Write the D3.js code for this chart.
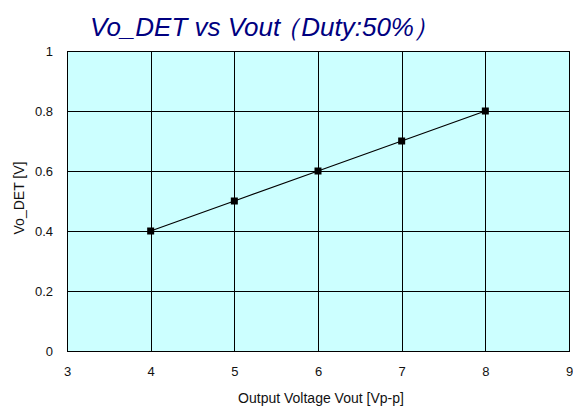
<!DOCTYPE html>
<html>
<head>
<meta charset="utf-8">
<script src="https://cdn.jsdelivr.net/npm/d3@7"></script>
<style>
  body { margin: 0; background: #fff; }
  svg { display: block; font-family: "Liberation Sans", Arial, sans-serif; }
</style>
</head>
<body>
<div id="chart"></div>
<script>
// data
var vout = [4, 5, 6, 7, 8];
var voDet = [0.4, 0.5, 0.6, 0.7, 0.8];
var xTicks = [3, 4, 5, 6, 7, 8, 9];
var yTicks = [0, 0.2, 0.4, 0.6, 0.8, 1];

var width = 573, height = 408;
var margin = { top: 51, right: 4, bottom: 57, left: 67 };
var innerW = width - margin.left - margin.right;
var innerH = height - margin.top - margin.bottom;

var svg = d3.select("#chart").append("svg")
  .attr("width", width)
  .attr("height", height);

var x = d3.scaleLinear().domain([3, 9]).range([0, innerW]);
var y = d3.scaleLinear().domain([0, 1]).range([innerH, 0]);

var g = svg.append("g")
  .attr("transform", "translate(" + margin.left + "," + margin.top + ")");

// plot background
g.append("rect")
  .attr("width", innerW)
  .attr("height", innerH)
  .attr("fill", "#ccffff");

// grid
g.selectAll(".vgrid").data(xTicks).enter().append("line")
  .attr("x1", function(d) { return Math.round(x(d)) + 0.5; })
  .attr("x2", function(d) { return Math.round(x(d)) + 0.5; })
  .attr("y1", 0).attr("y2", innerH)
  .attr("stroke", "#000").attr("stroke-width", 1);

g.selectAll(".hgrid").data(yTicks).enter().append("line")
  .attr("y1", function(d) { return Math.round(y(d)) + 0.5; })
  .attr("y2", function(d) { return Math.round(y(d)) + 0.5; })
  .attr("x1", 0).attr("x2", innerW)
  .attr("stroke", "#000").attr("stroke-width", 1);

g.append("rect")
  .attr("x", 0.5).attr("y", 0.5)
  .attr("width", innerW).attr("height", innerH)
  .attr("fill", "none").attr("stroke", "#000");

// axes (labels only)
var xAxis = d3.axisBottom(x).tickValues(xTicks).tickSize(0).tickPadding(16)
  .tickFormat(d3.format("d"));
g.append("g").attr("transform", "translate(0," + innerH + ")").call(xAxis)
  .call(function(s) { s.select(".domain").remove(); });

var yAxis = d3.axisLeft(y).tickValues(yTicks).tickSize(0).tickPadding(14)
  .tickFormat(function(d) { return d === 0 || d === 1 ? d : d3.format(".1f")(d); });
g.append("g").call(yAxis)
  .call(function(s) { s.select(".domain").remove(); });

svg.selectAll(".tick text")
  .attr("font-size", 13)
  .attr("font-family", "Liberation Sans, Arial, sans-serif")
  .attr("fill", "#111");

// line + markers
var line = d3.line()
  .x(function(d, i) { return x(vout[i]); })
  .y(function(d) { return y(d); });

g.append("path")
  .attr("d", line(voDet))
  .attr("fill", "none")
  .attr("stroke", "#000")
  .attr("stroke-width", 1.2);

g.selectAll(".pt").data(voDet).enter().append("rect")
  .attr("x", function(d, i) { return x(vout[i]) - 3.5; })
  .attr("y", function(d) { return y(d) - 3.5; })
  .attr("width", 7).attr("height", 7)
  .attr("fill", "#000");

// title (fullwidth parens pulled in a bit, like the original)
var title = svg.append("text")
  .attr("x", 90).attr("y", 36)
  .attr("font-size", 26)
  .attr("font-style", "italic")
  .attr("fill", "#000080");
title.append("tspan").text("Vo_DET vs Vout");
title.append("tspan").attr("dx", -6).text("（");
title.append("tspan").attr("dx", 1).text("Duty:50%");
title.append("tspan").attr("dx", -1).text("）");

// axis titles
svg.append("text")
  .attr("x", margin.left + innerW / 2 + 3).attr("y", 403)
  .attr("text-anchor", "middle")
  .attr("font-size", 14)
  .attr("fill", "#111")
  .text("Output Voltage Vout [Vp-p]");

svg.append("text")
  .attr("transform", "translate(24,198) rotate(-90)")
  .attr("text-anchor", "middle")
  .attr("font-size", 14)
  .attr("fill", "#111")
  .text("Vo_DET [V]");
</script>
</body>
</html>
